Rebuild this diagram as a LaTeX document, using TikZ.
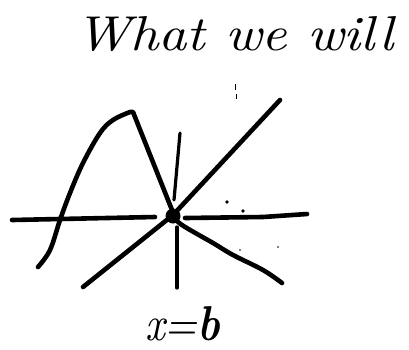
\documentclass[tikz,border=0pt]{standalone}
\begin{document}
\begin{tikzpicture}[x=1pt,y=-1pt,
  ink/.style={line width=4.6pt,line cap=round,line join=round},
  thinink/.style={line width=3.2pt,line cap=round,line join=round},
  speck/.style={fill=black}]
\useasboundingbox (0,0) rectangle (409,349);
% title
\node[anchor=base west,inner sep=0pt] (title) at (75,50)
  {\resizebox{318pt}{34pt}{\itshape What we will}};
% x-axis
\draw[ink] (12,220) -- (155,217);
\draw[ink] (185,218) -- (263,217) -- (307,214);
% vertical line x=b
\draw[thinink] (180,133) -- (174,200);
\draw[thinink] (177,227) -- (177,288);
% diagonal line
\draw[ink] (280,100) -- (173,215) -- (83,287);
% curve
\draw[ink] plot[smooth,tension=0.6] coordinates {(38,267) (50,250) (60,220) (70,193) (83,163) (100,133) (113,120) (130,112)} -- (133,112) -- (172,210);
\draw[ink] plot[smooth,tension=0.6] coordinates {(173,216) (182,225) (213,243) (233,255) (263,270) (282,283)};
% point
\coordinate (p) at (173,216);
\fill (p) circle (7.5pt);
% specks
\fill[speck] (227,202) circle (1.8pt);
\fill[speck] (243,211) circle (1.8pt);
\fill[speck] (240,250) circle (0.8pt);
\fill[speck] (278,247) circle (0.8pt);
\draw[line width=0.8pt] (235,84) -- (235,90);
\draw[line width=0.8pt] (236,94) -- (236,99);
% label
\node[anchor=base west,inner sep=0pt] (label) at (145,340)
  {\resizebox{75pt}{34pt}{\itshape x=\textbf{b}}};
\end{tikzpicture}
\end{document}
